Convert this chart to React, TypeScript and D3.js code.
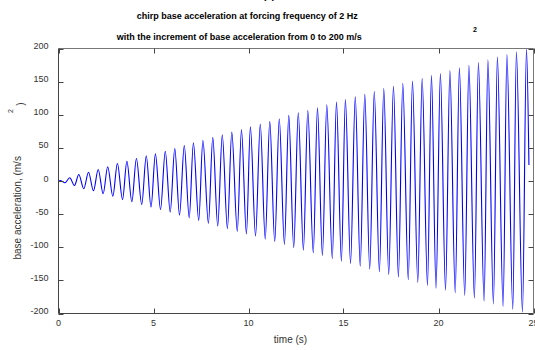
import React from "react";
import * as d3 from "d3";

// Extrema (time in s, acceleration in m/s^2)
const peakTimes = [0.09, 0.59, 1.07, 1.58, 2.09, 2.59, 3.1, 3.6, 4.1, 4.62, 5.1, 5.62, 6.12, 6.62, 7.1, 7.6, 8.12, 8.62, 9.12, 9.63, 10.1, 10.62, 11.12, 11.62, 12.12, 12.62, 13.12, 13.63, 14.12, 14.63, 15.1, 15.62, 16.12, 16.62, 17.12, 17.63, 18.12, 18.63, 19.14, 19.63, 20.1, 20.6, 21.1, 21.6, 22.1, 22.6, 23.1, 23.6, 24.1, 24.63];
const peakValues = [0.7, 4.8, 9.8, 13.3, 17.4, 21.4, 26.4, 29.9, 34, 38, 41, 45, 49, 53.6, 57.7, 61.6, 66, 69.7, 73.7, 77.7, 81.8, 86, 90, 94, 99, 103, 106.4, 110.5, 115, 119, 123, 127, 131, 135, 139.6, 143, 147.6, 151, 155, 159.7, 162, 166.8, 170.8, 174.8, 178.9, 183, 187, 191, 195, 199];
const troughTimes = [0.34, 0.84, 1.33, 1.84, 2.35, 2.86, 3.37, 3.86, 4.38, 4.87, 5.37, 5.88, 6.37, 6.88, 7.38, 7.89, 8.38, 8.89, 9.41, 9.89, 10.37, 10.88, 11.38, 11.89, 12.38, 12.89, 13.41, 13.89, 14.41, 14.89, 15.37, 15.88, 16.38, 16.89, 17.38, 17.89, 18.41, 18.91, 19.42, 19.87, 20.37, 20.88, 21.38, 21.89, 22.4, 22.89, 23.4, 23.91, 24.42];
const troughValues = [-2.7, -6.8, -11.8, -14.8, -19.3, -23, -28, -31.4, -35.5, -39.3, -43, -47, -51.6, -55.6, -59.6, -64, -68, -72, -76, -80, -83, -87.8, -91.8, -95.8, -100.4, -104.4, -108.4, -112.5, -117, -121, -124.5, -128.6, -133, -137, -141, -145, -149, -153, -157.7, -161.8, -164.8, -168.8, -172.8, -177, -181.4, -185.4, -189.4, -194, -198];
const startTime = 0;
const startValue = 0;
const endTime = 24.76;
const endValue = 24;

const xTicks = [0, 5, 10, 15, 20, 25];
const yTicks = [-200, -150, -100, -50, 0, 50, 100, 150, 200];

const titleLine1 = "chirp base acceleration at forcing frequency of 2 Hz";
const titleLine2 = "with the increment of base acceleration from 0 to 200 m/s";
const xLabel = "time (s)";
const yLabel = "base acceleration, (m/s";

export default function App() {
  const W = 535;
  const H = 350;
  const left = 58.5, right = 533.5, top = 48.5, bottom = 313.5;
  const x = d3.scaleLinear().domain([0, 25]).range([left, right]);
  const y = d3.scaleLinear().domain([-200, 200]).range([bottom, top]);

  const pts: [number, number][] = [[startTime, startValue]];
  peakTimes.forEach((t, i) => pts.push([t, peakValues[i]]));
  troughTimes.forEach((t, i) => pts.push([t, troughValues[i]]));
  pts.push([endTime, endValue]);
  pts.sort((a, b) => a[0] - b[0]);

  const line = d3
    .line<[number, number]>()
    .x((d) => x(d[0]))
    .y((d) => y(d[1]))
    .curve(d3.curveMonotoneX);

  const font = "'Liberation Sans', Arial, sans-serif";
  const tickLen = 5;
  const axisColor = "#444";

  return (
    <svg
      width={W}
      height={H}
      style={{ position: "absolute", left: 0, top: 0, background: "#fff" }}
      fontFamily={font}
    >
      <rect x={0} y={0} width={W} height={H} fill="#fff" />
      {/* titles */}
      <text x={269} y={-1.5} textAnchor="middle" fontSize={10} fontWeight="bold" fill="#000">(a)</text>
      <text x={247.3} y={19} textAnchor="middle" fontSize={9} fontWeight="bold" fill="#000">{titleLine1}</text>
      <text x={239.3} y={40} textAnchor="middle" fontSize={9} fontWeight="bold" fill="#000">{titleLine2}</text>
      <text x={475} y={32} textAnchor="middle" fontSize={7} fontWeight="bold" fill="#000">2</text>

      {/* data line */}
      <path d={line(pts) ?? ""} fill="none" stroke="#0000ff" strokeWidth={1.1} />

      {/* box */}
      <line x1={left} x2={right} y1={top} y2={top} stroke="#777" strokeWidth={1} />
      <line x1={right} x2={right} y1={top} y2={bottom} stroke="#777" strokeWidth={1} />
      <line x1={left} x2={right} y1={bottom} y2={bottom} stroke={axisColor} strokeWidth={1} />
      <line x1={left} x2={left} y1={top} y2={bottom} stroke={axisColor} strokeWidth={1} />

      {/* x ticks */}
      {xTicks.map((t) => (
        <g key={"x" + t}>
          <line x1={Math.round(x(t)) + 0.5} x2={Math.round(x(t)) + 0.5} y1={bottom} y2={bottom - tickLen} stroke={axisColor} />
          <line x1={Math.round(x(t)) + 0.5} x2={Math.round(x(t)) + 0.5} y1={top} y2={top + tickLen} stroke={axisColor} />
          <text x={x(t)} y={326} textAnchor="middle" fontSize={9} fill="#333">{t}</text>
        </g>
      ))}
      {/* y ticks */}
      {yTicks.map((t) => (
        <g key={"y" + t}>
          <line x1={left} x2={left + tickLen} y1={Math.round(y(t)) + 0.5} y2={Math.round(y(t)) + 0.5} stroke={axisColor} />
          <line x1={right} x2={right - tickLen} y1={Math.round(y(t)) + 0.5} y2={Math.round(y(t)) + 0.5} stroke={axisColor} />
          <text x={48.5} y={y(t) + 0.5} textAnchor="end" fontSize={9} fill="#333">{t}</text>
        </g>
      ))}

      {/* axis labels */}
      <text x={290.5} y={343} textAnchor="middle" fontSize={10} fill="#333">{xLabel}</text>
      <text transform="translate(20.5,259.5) rotate(-90)" textAnchor="start" fontSize={10} fill="#333">{yLabel}</text>
      <text transform="translate(12.5,111) rotate(-90)" textAnchor="middle" fontSize={7} fill="#333">2</text>
      <text transform="translate(24,104) rotate(-90)" textAnchor="middle" fontSize={10} fill="#333">)</text>
    </svg>
  );
}
